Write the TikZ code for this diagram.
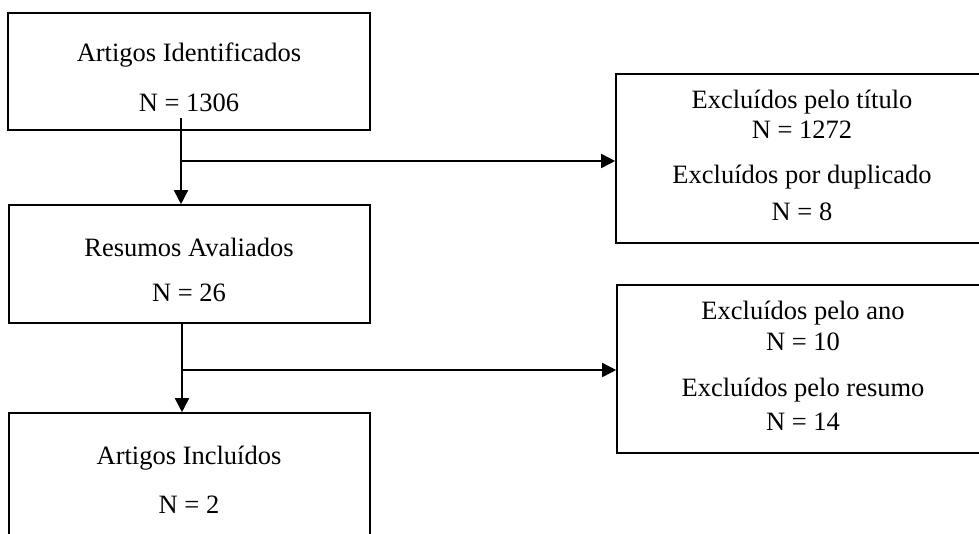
\documentclass[tikz,border=0pt]{standalone}
\usepackage{fontspec}
\setmainfont{Liberation Serif}
\usetikzlibrary{arrows.meta}
\begin{document}
\begin{tikzpicture}[x=1pt,y=-1pt,
  boxstyle/.style={draw=black,line width=1.6pt,inner sep=0pt},
  txt/.style={inner sep=0pt,font=\fontsize{26.5}{30}\selectfont},
  arr/.style={line width=1.6pt,-{Triangle[length=14pt,width=14pt]}},
  ln/.style={line width=1.6pt}]
\useasboundingbox (0,0) rectangle (979,533);
% left boxes
\node[boxstyle,minimum width=362pt,minimum height=117pt] (b1) at (189,71.5) {};
\node[boxstyle,minimum width=361pt,minimum height=118pt] (b2) at (189.5,264) {};
\node[boxstyle,minimum width=361pt,minimum height=147pt] (b3) at (189.5,486.5) {};
% right boxes
\node[boxstyle,minimum width=374pt,minimum height=169pt] (r1) at (803,158.5) {};
\node[boxstyle,minimum width=373pt,minimum height=168pt] (r2) at (803.5,369) {};
% texts
\node[txt] (t1a) at (189,55) {Artigos Identificados};
\node[txt] (t1b) at (189,103) {N = 1306};
\node[txt] (t2a) at (189,247) {Resumos Avaliados};
\node[txt] (t2b) at (189,293) {N = 26};
\node[txt] (t3a) at (189,458) {Artigos Incluídos};
\node[txt] (t3b) at (189,505) {N = 2};
\node[txt] (r1a) at (802,102) {Excluídos pelo título};
\node[txt] (r1b) at (802,130) {N = 1272};
\node[txt] (r1c) at (802,177) {Excluídos por duplicado};
\node[txt] (r1d) at (802,212) {N = 8};
\node[txt] (r2a) at (803,313) {Excluídos pelo ano};
\node[txt] (r2b) at (803,342) {N = 10};
\node[txt] (r2c) at (803,390) {Excluídos pelo resumo};
\node[txt] (r2d) at (803,422) {N = 14};
% connectors
\coordinate (s1) at (181,118);
\coordinate (j1) at (181,161);
\draw[arr] (s1) -- (s1 |- b2.north);
\draw[arr] (j1) -- (j1 -| r1.west);
\coordinate (s2) at (182,323);
\coordinate (j2) at (182,370);
\draw[arr] (s2) -- (s2 |- b3.north);
\draw[arr] (j2) -- (j2 -| r2.west);
\end{tikzpicture}
\end{document}
